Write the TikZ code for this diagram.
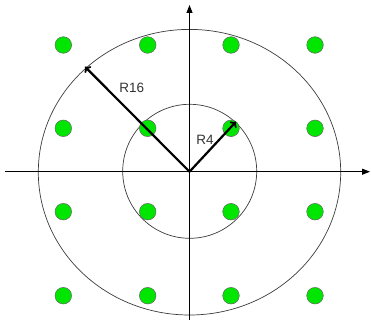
\documentclass[tikz,border=0pt]{standalone}
\usepackage{fontspec}
\setmainfont{Liberation Sans}
\usetikzlibrary{arrows.meta}
\definecolor{dotgreen}{RGB}{0,230,0}
\definecolor{ringgray}{RGB}{60,60,60}
\tikzset{
  dot/.style={circle,fill=dotgreen,draw=gray!80!black,line width=0.5pt,minimum size=16.6pt,inner sep=0pt},
  axis/.style={line width=1pt,-{Triangle[length=8pt,width=6pt]}},
  radius arrow/.style={line width=2.2pt,-{To[length=5pt,width=9pt,line width=1.8pt]}},
  ring/.style={draw=ringgray,line width=0.7pt},
  lbl/.style={font=\fontsize{13.5}{15}\selectfont,text=black!80,inner sep=0pt}
}
\begin{document}
\begin{tikzpicture}[x=1pt,y=-1pt]
\useasboundingbox (0,0) rectangle (371,321);
\coordinate (o) at (189.5,171.7);
\coordinate (xl) at (5,171.7);
\coordinate (xr) at (370,171.7);
\coordinate (yb) at (189.5,320);
\coordinate (yt) at (189.5,5);
\draw[ring] (189.5,172.2) ellipse [x radius=151.2, y radius=142.8];
\draw[ring] (189.7,171.3) circle [radius=67];
\draw[axis] (xl) -- (xr);
\draw[axis] (yb) -- (yt);
\foreach \i/\x in {1/63.3,2/147.7,3/231,4/315}{
  \foreach \j/\y in {1/45,2/128.3,3/211.7,4/295.7}{
    \node[dot] (d\i\j) at (\x,\y) {};
  }
}
\coordinate (r16) at (85,66.7);
\coordinate (r4) at (236,121.7);
\draw[radius arrow] (o) -- (r16);
\draw[radius arrow] (o) -- (r4);
\node[lbl,anchor=base] (l16) at (131.7,92.3) {R16};
\node[lbl,anchor=base] (l4) at (205,144) {R4};
\end{tikzpicture}
\end{document}
